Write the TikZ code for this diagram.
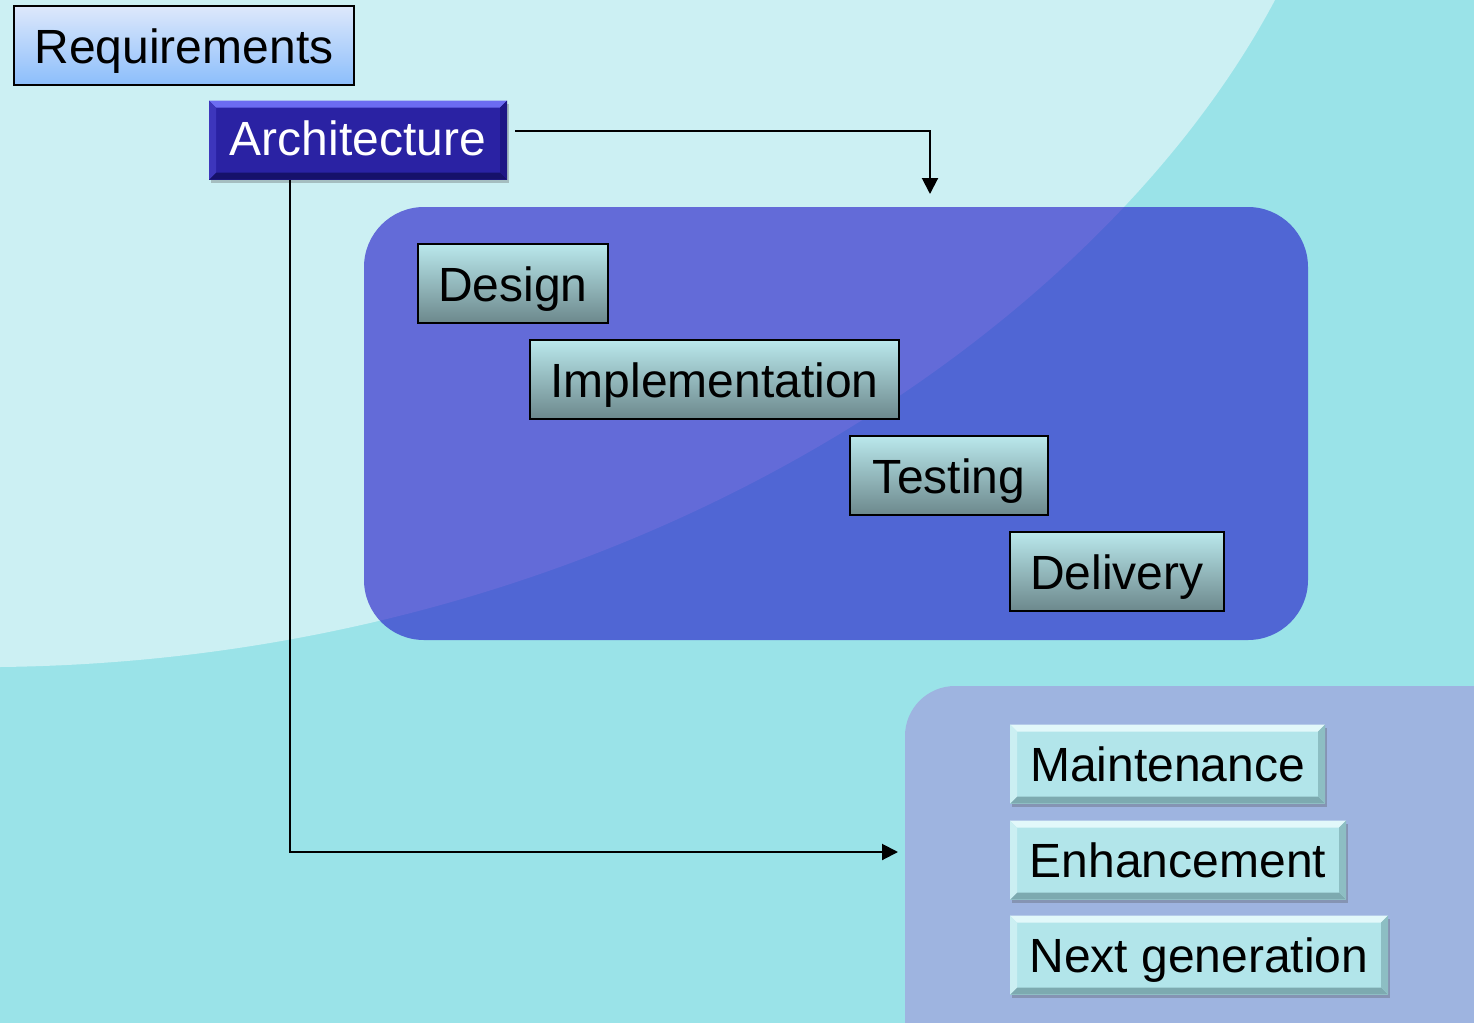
\documentclass[tikz,border=0pt]{standalone}
\usepackage{fontspec}
\setmainfont{Liberation Sans}
\usetikzlibrary{shadings,shadows,arrows.meta}
\definecolor{bgdark}{HTML}{9AE3E8}
\definecolor{bglight}{HTML}{CCF0F3}
\definecolor{phaseblue}{RGB}{35,26,200}
\definecolor{phaselight}{HTML}{9EB4E0}
\definecolor{reqtop}{HTML}{DDE8FB}
\definecolor{reqbot}{HTML}{8CBEFB}
\definecolor{archmain}{HTML}{2A22A3}
\definecolor{archtop}{HTML}{6C6CF2}
\definecolor{archbot}{HTML}{16116A}
\definecolor{archleft}{HTML}{3D36BC}
\definecolor{archright}{HTML}{1E1785}
\definecolor{steptop}{HTML}{BAE8EC}
\definecolor{stepbot}{HTML}{6C888C}
\definecolor{cyanmain}{HTML}{B2E5EA}
\definecolor{cyantop}{HTML}{E2F8FA}
\definecolor{cyanbot}{HTML}{7DAAB0}
\definecolor{cyanleft}{HTML}{CBEFF2}
\definecolor{cyanright}{HTML}{8DBEC3}
\tikzset{
  lbl/.style={font=\fontsize{24}{28}\selectfont, inner sep=0pt, minimum height=39.5pt,
    text height=20pt, text depth=2.5pt},
  reqbox/.style={lbl, draw=black, line width=1pt, top color=reqtop, bottom color=reqbot},
  stepbox/.style={lbl, draw=black, line width=1.3pt, top color=steptop, bottom color=stepbot},
  bevel/.style n args={5}{lbl, fill=#1,
    drop shadow={shadow xshift=1.2pt, shadow yshift=-1.5pt, opacity=0.3, fill=black!70},
    path picture={
      \coordinate (nw) at (path picture bounding box.north west);
      \coordinate (ne) at (path picture bounding box.north east);
      \coordinate (sw) at (path picture bounding box.south west);
      \coordinate (se) at (path picture bounding box.south east);
      \fill[#2] (nw) -- (ne) -- ([xshift=-3.5pt,yshift=-3.5pt]ne) -- ([xshift=3.5pt,yshift=-3.5pt]nw) -- cycle;
      \fill[#3] (sw) -- (se) -- ([xshift=-3.5pt,yshift=3.5pt]se) -- ([xshift=3.5pt,yshift=3.5pt]sw) -- cycle;
      \fill[#4] (nw) -- ([xshift=3.5pt,yshift=-3.5pt]nw) -- ([xshift=3.5pt,yshift=3.5pt]sw) -- (sw) -- cycle;
      \fill[#5] (ne) -- ([xshift=-3.5pt,yshift=-3.5pt]ne) -- ([xshift=-3.5pt,yshift=3.5pt]se) -- (se) -- cycle;
    }},
  archbox/.style={bevel={archmain}{archtop}{archbot}{archleft}{archright}, text=white},
  cyanbox/.style={bevel={cyanmain}{cyantop}{cyanbot}{cyanleft}{cyanright}},
  conn/.style={draw=black, line width=1pt},
  tip/.style={-{Triangle[length=8pt,width=8pt]}}
}
\begin{document}
\begin{tikzpicture}[x=0.5pt,y=-0.5pt]
\useasboundingbox (0,0) rectangle (1474,1023);
\clip (0,0) rectangle (1474,1023);
% background
\fill[bgdark] (0,0) rectangle (1474,1023);
\fill[bglight] (1275,0) .. controls (1100,330) and (620,660) .. (0,667) -- (0,0) -- cycle;
% phase containers
\fill[phaseblue, fill opacity=0.62, rounded corners=30pt] (364,207) rectangle (1308,640);
\fill[phaselight, rounded corners=25pt] (905,686) rectangle (1540,1080);
% nodes
\node[reqbox, minimum width=170pt] (req) at (184,45.5) {Requirements};
\node[archbox, minimum width=149pt, text height=18pt] (arch) at (358,140) {Architecture};
\node[stepbox, minimum width=95pt] (design) at (513,283.5) {Design};
\node[stepbox, minimum width=184.5pt] (impl) at (714.5,379.5) {Implementation};
\node[stepbox, minimum width=99pt] (test) at (949,475.5) {Testing};
\node[stepbox, minimum width=107pt] (deliv) at (1117,571.5) {Delivery};
\node[cyanbox, minimum width=157.5pt] (maint) at (1167.5,764) {Maintenance};
\node[cyanbox, minimum width=168pt] (enh) at (1178,860) {Enhancement};
\node[cyanbox, minimum width=189pt] (next) at (1199,955) {Next generation};
% connectors
\coordinate (t1) at (930,194);
\coordinate (t2) at (898,852);
\draw[conn, tip] ([xshift=4pt,yshift=4.5pt]arch.east) -| (t1);
\draw[conn, tip] ([xshift=40.5pt]arch.south west) |- (t2);
\end{tikzpicture}
\end{document}
